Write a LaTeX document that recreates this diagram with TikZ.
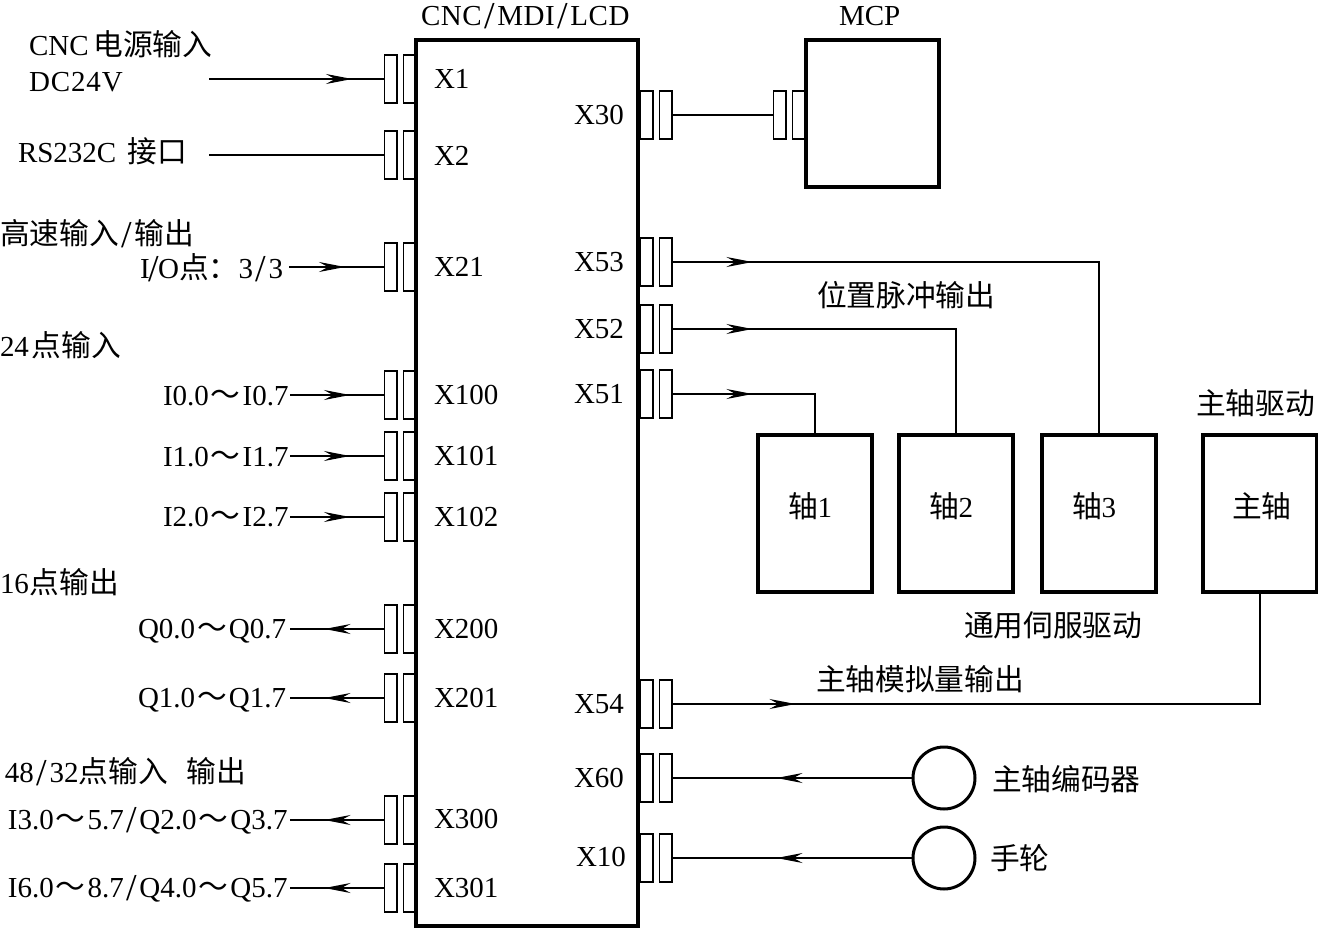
\documentclass[tikz,border=0pt]{standalone}
\usepackage{fontspec}
\setmainfont{Liberation Serif}
\newfontfamily\cjk[Scale=1.025]{Noto Sans CJK SC}
\usetikzlibrary{arrows.meta,decorations.markings}
\tikzset{
  thickbox/.style={draw=black,line width=3.2pt,fill=none,inner sep=0,rectangle},
  pin/.style={draw=black,line width=1.8pt,fill=white,inner sep=0,rectangle,minimum width=12.2pt,minimum height=47.5pt},
  lbl/.style={anchor=base west,inner sep=0,outer sep=0,font=\fontsize{29}{32}\selectfont,text=black},
  wire/.style={line width=1.1pt,draw=black},
  heavywire/.style={line width=1.8pt,draw=black},
  arrowat/.style={postaction={decorate,decoration={markings,mark=at position #1 with {\arrow{Stealth[length=26pt,width=10pt,inset=9pt]}}}}},
  wheel/.style={draw=black,line width=3pt,circle,inner sep=0,minimum size=62pt}
}
% a two-pin socket: pins named <name>a (outer or left) and <name>b
\newcommand{\socket}[3]{%
  \node[pin] (#1a) at (#2,#3) {};
  \node[pin] (#1b) at (#2+19,#3) {};
}
\newcommand{\tagat}[4]{\node[lbl] (#1) at (#2,#3) {#4};}
% tall slash and wide-set wave dash of the captions
\newcommand{\tallslash}{\smash{\raisebox{-3pt}{\fontsize{38}{38}\selectfont /}}}
\newcommand{\wslash}{\kern2.5pt\tallslash\kern2.5pt}
\newcommand{\wave}{\kern2pt{\cjk ～}\kern2pt}
\begin{document}
\begin{tikzpicture}[x=1pt,y=-1pt]
\useasboundingbox (0,0) rectangle (1318,929);

% sockets on the left edge of the controller
\socket{xa}{390.5}{79}
\socket{xb}{390.5}{155}
\socket{xc}{390.5}{267}
\socket{xd}{390.5}{395}
\socket{xe}{390.5}{456}
\socket{xf}{390.5}{517}
\socket{xg}{390.5}{629}
\socket{xh}{390.5}{698}
\socket{xi}{390.5}{820}
\socket{xj}{390.5}{888}
% sockets on the right edge of the controller
\socket{ya}{646.5}{115}
\socket{yb}{646.5}{262}
\socket{yc}{646.5}{329}
\socket{yd}{646.5}{394}
\socket{ye}{646.5}{704}
\socket{yf}{646.5}{778}
\socket{yg}{646.5}{858}
% socket on the operator panel
\socket{za}{779.5}{115}

% main blocks
\node[thickbox,minimum width=222pt,minimum height=886pt] (cnc) at (527,483) {};
\node[thickbox,minimum width=133pt,minimum height=147pt] (mcp) at (872.5,113.5) {};
\node[thickbox,minimum width=114pt,minimum height=157pt] (ax1) at (815,513.5) {};
\node[thickbox,minimum width=114pt,minimum height=157pt] (ax2) at (956,513.5) {};
\node[thickbox,minimum width=114pt,minimum height=157pt] (ax3) at (1099,513.5) {};
\node[thickbox,minimum width=114pt,minimum height=157pt] (sp) at (1260,513.5) {};
\node[wheel] (enc) at (944,778) {};
\node[wheel] (hw) at (944,858) {};

% free ends of the signal lines
\coordinate (fa) at (209,79);
\coordinate (fb) at (209,155);
\coordinate (fc) at (289,267);
\coordinate (fd) at (290,395);
\coordinate (fe) at (290,456);
\coordinate (ff) at (290,517);
\coordinate (fg) at (290,629);
\coordinate (fh) at (290,698);
\coordinate (fi) at (290,820);
\coordinate (fj) at (290,888);

% left-hand signals
\draw[wire,arrowat=143pt] (fa) -- (xaa.west);
\draw[wire] (fb) -- (xba.west);
\draw[heavywire,arrowat=56pt] (fc) -- (xca.west);
\draw[heavywire,arrowat=60pt] (fd) -- (xda.west);
\draw[heavywire,arrowat=60pt] (fe) -- (xea.west);
\draw[heavywire,arrowat=60pt] (ff) -- (xfa.west);
\draw[wire,arrowat=59pt] (xga.west) -- (fg);
\draw[wire,arrowat=59pt] (xha.west) -- (fh);
\draw[heavywire,arrowat=59pt] (xia.west) -- (fi);
\draw[heavywire,arrowat=59pt] (xja.west) -- (fj);

% right-hand signals
\draw[wire] (yab.east) -- (zaa.west);
\draw[wire,arrowat=80pt] (ybb.east) -| (ax3.north);
\draw[wire,arrowat=80pt] (ycb.east) -| (ax2.north);
\draw[wire,arrowat=80pt] (ydb.east) -| (ax1.north);
\draw[wire,arrowat=123pt] (yeb.east) -| (sp.south);
\draw[wire,arrowat=135pt] (enc.west) -- (yfb.east);
\draw[wire,arrowat=135pt] (hw.west) -- (ygb.east);

% controller and panel titles
\tagat{tcnc}{421}{25}{\addfontfeature{LetterSpace=2}CNC\wslash MDI\wslash LCD}
\tagat{tmcp}{839}{25}{MCP}

% left-hand captions
\tagat{ta}{29}{55}{CNC\,{\cjk 电源输入}}
\tagat{tb}{29}{91}{\addfontfeature{LetterSpace=3}DC24V}
\tagat{tc}{18}{162}{RS232C\kern11pt{\cjk 接口}}
\tagat{td}{0}{244}{{\cjk 高速输入}\wslash{\cjk 输出}}
\tagat{te}{140}{278}{I\kern-1pt\tallslash\kern-1pt O{\cjk 点：}3\wslash 3}
\tagat{tf}{0}{356}{24\kern3pt{\cjk 点输入}}
\tagat{tg}{163}{405}{I0.0\wave I0.7}
\tagat{th}{163}{466}{I1.0\wave I1.7}
\tagat{ti}{163}{526}{I2.0\wave I2.7}
\tagat{tj}{0}{593}{16\kern1pt{\cjk 点输出}}
\tagat{tk}{138}{638}{Q0.0\wave Q0.7}
\tagat{tl}{138}{707}{Q1.0\wave Q1.7}
\tagat{tm}{5}{782}{48\wslash 32{\cjk 点输入\hspace{19pt}输出}}
\tagat{tn}{8}{829}{I3.0\wave 5.7\wslash Q2.0\wave Q3.7}
\tagat{to}{8}{897}{I6.0\wave 8.7\wslash Q4.0\wave Q5.7}

% socket names inside the controller
\tagat{na}{434}{88}{X1}
\tagat{nb}{434}{165}{X2}
\tagat{nc}{434}{276}{X21}
\tagat{nd}{434}{404}{X100}
\tagat{ne}{434}{465}{X101}
\tagat{nf}{434}{526}{X102}
\tagat{ng}{434}{638}{X200}
\tagat{nh}{434}{707}{X201}
\tagat{ni}{434}{828}{X300}
\tagat{nj}{434}{897}{X301}
\tagat{pa}{574}{124}{X30}
\tagat{pb}{574}{271}{X53}
\tagat{pc}{574}{338}{X52}
\tagat{pd}{574}{403}{X51}
\tagat{pe}{574}{713}{X54}
\tagat{pf}{574}{787}{X60}
\tagat{pg}{576}{866}{X10}

% right-hand captions
\tagat{ra}{817}{306}{\cjk 位置脉冲输出}
\tagat{rb}{788}{517}{{\cjk 轴}1}
\tagat{rc}{929}{517}{{\cjk 轴}2}
\tagat{rd}{1072}{517}{{\cjk 轴}3}
\tagat{re}{1196}{414}{\cjk 主轴驱动}
\tagat{rf}{1232}{517}{\cjk 主轴}
\tagat{rg}{964}{636}{\cjk 通用伺服驱动}
\tagat{rh}{816}{690}{\cjk 主轴模拟量输出}
\tagat{ri}{992}{790}{\cjk 主轴编码器}
\tagat{rj}{990}{869}{\cjk 手轮}
\end{tikzpicture}
\end{document}
